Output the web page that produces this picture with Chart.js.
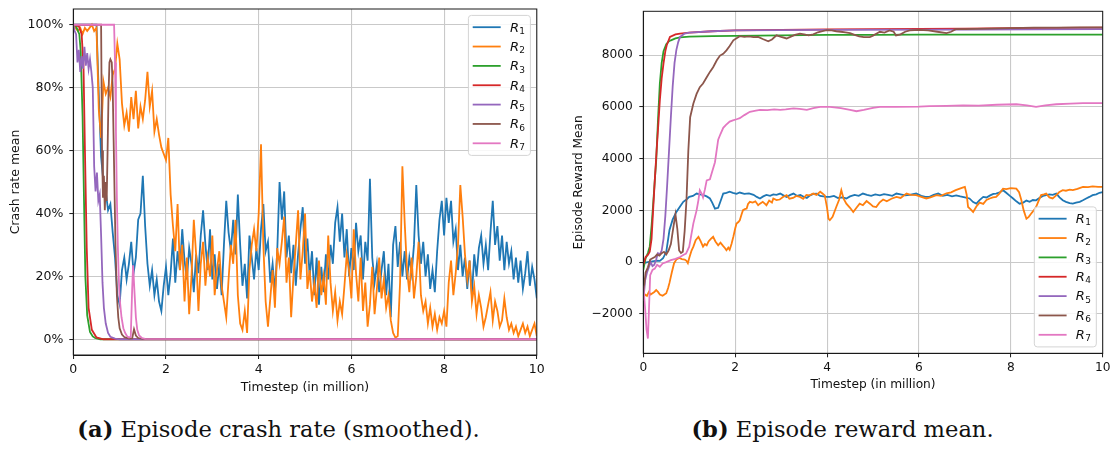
<!DOCTYPE html>
<html>
<head>
<meta charset="utf-8">
<script src="https://cdn.jsdelivr.net/npm/chart.js@4.4.0/dist/chart.umd.min.js"></script>
<style>
  html, body { margin: 0; padding: 0; background: #fff; }
  #page { position: relative; width: 1115px; height: 450px; background: #fff; overflow: hidden; }
  .panel { position: absolute; top: 0; }
  .cap { position: absolute; top: 416px; width: 560px; text-align: center;
         font-family: "DejaVu Serif", serif; font-size: 22.6px; color: #111; white-space: nowrap; }
</style>
</head>
<body>
<div id="page">
  <div class="panel" style="left:0;width:550px;height:400px"><canvas id="crash" width="550" height="400"></canvas></div>
  <div class="panel" style="left:555px;width:560px;height:400px"><canvas id="reward" width="560" height="400"></canvas></div>
  <div class="cap" style="left:-1.5px"><b>(a)</b> Episode crash rate (smoothed).</div>
  <div class="cap" style="left:562.5px"><b>(b)</b> Episode reward mean.</div>
</div>
<script>
// ---------- series names and colours ----------
const seriesLabels = ['R1', 'R2', 'R3', 'R4', 'R5', 'R6', 'R7'];
const seriesColors = ['#1f77b4', '#ff7f0e', '#2ca02c', '#d62728', '#9467bd', '#8c564b', '#e377c2'];

// ---------- axis ticks ----------
const timeTicks = [0, 2, 4, 6, 8, 10];
const crashTicks = [0, 20, 40, 60, 80, 100];
const rewardTicks = [-2000, 0, 2000, 4000, 6000, 8000];

// ---------- crash rate (%), sampled every 0.05 M steps for R1 / R2 ----------
const crashTime = [
  0,0.05,0.1,0.15,0.2,0.25,0.3,0.35,0.4,0.45,0.5,0.55,0.6,0.65,0.7,0.75,0.8,0.85,0.9,0.95,
  1,1.05,1.1,1.15,1.2,1.25,1.3,1.35,1.4,1.45,1.5,1.55,1.6,1.65,1.7,1.75,1.8,1.85,1.9,1.95,
  2,2.05,2.1,2.15,2.2,2.25,2.3,2.35,2.4,2.45,2.5,2.55,2.6,2.65,2.7,2.75,2.8,2.85,2.9,2.95,
  3,3.05,3.1,3.15,3.2,3.25,3.3,3.35,3.4,3.45,3.5,3.55,3.6,3.65,3.7,3.75,3.8,3.85,3.9,3.95,
  4,4.05,4.1,4.15,4.2,4.25,4.3,4.35,4.4,4.45,4.5,4.55,4.6,4.65,4.7,4.75,4.8,4.85,4.9,4.95,
  5,5.05,5.1,5.15,5.2,5.25,5.3,5.35,5.4,5.45,5.5,5.55,5.6,5.65,5.7,5.75,5.8,5.85,5.9,5.95,
  6,6.05,6.1,6.15,6.2,6.25,6.3,6.35,6.4,6.45,6.5,6.55,6.6,6.65,6.7,6.75,6.8,6.85,6.9,6.95,
  7,7.05,7.1,7.15,7.2,7.25,7.3,7.35,7.4,7.45,7.5,7.55,7.6,7.65,7.7,7.75,7.8,7.85,7.9,7.95,
  8,8.05,8.1,8.15,8.2,8.25,8.3,8.35,8.4,8.45,8.5,8.55,8.6,8.65,8.7,8.75,8.8,8.85,8.9,8.95,
  9,9.05,9.1,9.15,9.2,9.25,9.3,9.35,9.4,9.45,9.5,9.55,9.6,9.65,9.7,9.75,9.8,9.85,9.9,9.95,
  10
];
const crashR1 = [
  100,100,100,100,100,100,100,100,100,100,100,
  78,58,50,47,41,43,34,26,14,11,
  22,26,19,24,31,21,26,38,40,52,36,24,17,22,14,19,12,9,17,23,
  14,21,32,18,28,22,35,25,19,29,24,15,27,21,33,41,30,22,35,19,
  27,16,24,14,30,44,34,28,38,27,46,30,17,24,13,33,26,19,29,22,
  35,43,28,31,18,24,15,28,50,38,47,26,33,21,30,17,27,35,42,24,
  32,20,28,14,26,11,23,15,27,19,30,24,37,42,31,40,26,35,20,29,
  22,37,28,33,19,31,25,51,26,18,24,15,22,28,14,24,7,30,36,23,
  31,20,28,19,26,21,30,49,33,24,31,20,27,16,22,15,28,38,44,33,
  45,37,44,31,35,22,30,20,26,16,25,14,27,20,29,33,24,30,22,34,
  44,30,36,25,33,22,31,24,28,19,26,18,25,16,21,28,17,23,19,13
];
const crashR2 = [
  100,99,98,99,97,99,98,99,100,98,99,
  73,64,82,78,80,77,84,86,94,89,
  75,68,72,66,77,70,79,67,74,70,76,85,74,79,66,70,65,61,59,57,
  64,46,36,28,43,22,30,12,26,8,20,38,27,9,24,31,17,26,20,33,
  14,22,28,17,12,7,19,30,24,38,14,5,3,9,2,22,30,35,28,40,
  62,30,12,4,13,22,10,29,24,31,39,18,26,7,20,30,41,19,28,40,
  16,22,12,18,10,25,14,20,11,33,18,9,15,6,12,8,17,27,22,13,
  35,21,12,26,9,18,4,11,23,8,16,26,13,19,10,14,6,2,0.5,1,
  18,55,37,22,15,26,13,20,31,14,9,12,5,10,4,8,3,7,5,9,
  4,18,25,14,21,30,49,39,27,19,25,12,17,8,14,10,4,7,11,15,
  6,12,9,4,6,13,7,3,5,2,4,1,3,5,2,4,1,3,5,1
];
const crashR3Time = [0, 0.06, 0.13, 0.16, 0.2, 0.23, 0.26, 0.3, 0.36, 0.42, 0.47, 0.58, 10];
const crashR3 = [100, 99.5, 97, 91.5, 71, 45, 20, 7.6, 2.3, 0.9, 0.4, 0, 0];
const crashR4Time = [0, 0.12, 0.18, 0.22, 0.25, 0.29, 0.33, 0.4, 0.5, 0.65, 10];
const crashR4 = [100, 99.5, 97, 87, 61, 29, 10, 3, 0.6, 0, 0];
const crashR5Time = [0, 0.03, 0.06, 0.09, 0.12, 0.15, 0.18, 0.21, 0.24, 0.27, 0.3, 0.33, 0.36, 0.39, 0.42,
                     0.45, 0.48, 0.51, 0.54, 0.57, 0.6, 0.63, 0.66, 0.7, 0.75, 0.8, 0.9, 1.0, 10];
const crashR5 = [100, 98, 97, 88, 92, 85, 90, 86, 93, 87, 91, 86, 89, 85, 80,
                 55, 47, 53, 44, 46, 33, 18, 10, 5, 2, 0.8, 0.2, 0, 0];
const crashR6Time = [0, 0.6, 0.62, 0.64, 0.66, 0.68, 0.7, 0.72, 0.74, 0.76, 0.78, 0.8, 0.83, 0.85, 0.88,
                     0.91, 0.94, 0.97, 1.0, 1.05, 1.1, 1.2, 1.27, 1.31, 1.35, 1.4, 1.5, 10];
const crashR6 = [100, 100, 60, 45, 52, 41, 50, 44, 60, 78, 88, 89, 88, 80, 55,
                 30, 14, 7, 3.5, 1.5, 0.7, 0.2, 0.3, 3.2, 1.2, 0.4, 0.1, 0];
const crashR7Time = [0, 0.88, 0.9, 0.92, 0.94, 0.96, 0.98, 1.0, 1.04, 1.08, 1.12, 1.16, 1.2, 1.24,
                     1.27, 1.29, 1.32, 1.35, 1.38, 1.42, 1.48, 1.55, 10];
const crashR7 = [100, 100, 88, 66, 45, 30, 20, 13, 7, 3.5, 2, 1, 0.6, 0.8,
                 16, 23.5, 15, 7, 3, 1.2, 0.4, 0.1, 0];

// ---------- episode reward mean ----------
const rewardR1Time = [0,0.1,0.2,0.3,0.36,0.43,0.5,0.57,0.64,0.72,0.8,0.87,0.94,1.0,1.08,1.16,1.23,1.3,1.38,1.45,
  1.5,1.56,1.63,1.7,1.74,1.81,1.88,1.95,2.03,2.1,2.2,2.3,2.4,2.47,2.54,2.61,2.68,2.76,2.83,2.9,
  2.98,3.05,3.12,3.2,3.27,3.35,3.42,3.5,3.56,3.63,3.7,3.77,3.85,3.92,3.99,4.06,4.15,4.24,4.33,4.42,
  4.5,4.6,4.69,4.78,4.87,4.96,5.05,5.15,5.24,5.33,5.42,5.51,5.6,5.7,5.8,5.94,6.05,6.14,6.23,6.32,
  6.42,6.52,6.62,6.72,6.81,6.9,7.0,7.1,7.18,7.25,7.32,7.4,7.47,7.55,7.62,7.68,7.76,7.83,7.9,7.98,
  8.05,8.12,8.19,8.27,8.34,8.41,8.48,8.55,8.62,8.7,8.77,8.84,8.91,8.99,9.06,9.13,9.2,9.28,9.35,9.42,
  9.5,9.57,9.64,9.71,9.78,9.86,9.93,10];
const rewardR1 = [-40,0,30,60,50,150,400,1240,1650,1940,2150,2330,2420,2520,2560,2650,2620,2600,2540,2460,
  2300,2070,2100,2450,2650,2680,2720,2680,2640,2690,2640,2660,2600,2520,2460,2540,2600,2560,2620,2600,
  2650,2580,2520,2600,2650,2560,2600,2520,2480,2580,2640,2650,2560,2540,2520,2520,2560,2480,2500,2460,
  2540,2600,2560,2650,2600,2560,2620,2580,2630,2600,2560,2650,2620,2580,2600,2650,2560,2520,2520,2600,
  2650,2560,2600,2540,2580,2540,2500,2460,2320,2260,2400,2520,2500,2580,2640,2650,2700,2780,2680,2560,
  2460,2350,2260,2300,2380,2330,2400,2390,2480,2560,2590,2620,2600,2650,2500,2390,2330,2280,2260,2300,
  2330,2390,2460,2520,2590,2620,2680,2710];
const rewardR2Time = [0,0.04,0.08,0.12,0.16,0.2,0.24,0.28,0.32,0.36,0.42,0.46,0.5,0.54,0.57,0.62,0.67,0.72,0.78,0.84,
  0.9,0.94,0.97,1.0,1.05,1.09,1.14,1.2,1.25,1.3,1.34,1.38,1.42,1.47,1.52,1.57,1.63,1.68,1.74,1.78,
  1.81,1.85,1.88,1.92,1.96,2.0,2.03,2.07,2.1,2.14,2.17,2.21,2.25,2.28,2.32,2.38,2.44,2.5,2.54,2.6,
  2.65,2.68,2.74,2.8,2.83,2.9,2.97,3.04,3.12,3.18,3.26,3.33,3.41,3.48,3.55,3.62,3.7,3.77,3.85,3.9,
  3.95,4.0,4.03,4.06,4.12,4.2,4.26,4.31,4.36,4.42,4.5,4.57,4.64,4.71,4.78,4.86,4.94,5.0,5.07,5.14,
  5.22,5.3,5.4,5.51,5.6,5.73,5.82,5.94,6.05,6.16,6.25,6.38,6.48,6.6,6.7,6.8,6.89,6.95,7.0,7.04,
  7.07,7.12,7.18,7.25,7.32,7.4,7.47,7.54,7.61,7.68,7.75,7.83,7.9,8.0,8.12,8.18,8.23,8.28,8.34,8.39,
  8.44,8.5,8.55,8.6,8.66,8.72,8.77,8.84,8.91,8.97,9.05,9.13,9.2,9.28,9.35,9.45,9.57,9.68,9.78,9.9,10];
const rewardR2 = [-1400,-1250,-1300,-1150,-1250,-1200,-1150,-1080,-1150,-1250,-1300,-1250,-1200,-1000,-800,-400,-40,100,160,120,
  100,50,-40,160,450,600,850,980,800,600,700,650,800,900,980,800,650,750,620,540,
  460,560,480,700,980,1300,1490,1550,1620,1850,2010,2050,2070,2250,2330,2300,2350,2200,2260,2330,
  2250,2200,2380,2300,2460,2400,2420,2520,2590,2450,2480,2560,2520,2450,2600,2580,2650,2600,2720,2650,
  2580,2100,1680,1620,1750,2130,2400,2780,2450,2260,2100,1940,2100,2260,2200,2360,2250,2150,2130,2300,
  2420,2350,2450,2520,2480,2650,2600,2590,2520,2460,2500,2590,2560,2660,2700,2780,2840,2880,2910,2600,
  2130,2050,1940,2150,2300,2250,2400,2460,2500,2520,2650,2840,2820,2860,2840,2700,2390,2000,1680,1750,
  1870,2000,2130,2350,2590,2620,2650,2500,2460,2550,2700,2780,2760,2800,2780,2830,2910,2900,2930,2910,2910];
const rewardR3Time = [0,0.05,0.1,0.14,0.18,0.21,0.25,0.28,0.32,0.36,0.4,0.44,0.5,0.55,0.6,0.7,0.8,1.0,1.5,2,3,4,5,6,7,8,9,10];
const rewardR3 = [-300,150,350,600,1400,2130,3160,3900,5500,6900,7700,8150,8420,8520,8570,8640,8680,8710,8730,8740,8760,8780,8780,8790,8790,8790,8790,8790];
const rewardR4Time = [0,0.05,0.1,0.14,0.18,0.21,0.25,0.29,0.33,0.36,0.4,0.44,0.48,0.51,0.58,0.7,0.8,1.0,1.5,2,3,4,5,6,7,8,9,10];
const rewardR4 = [-100,200,280,400,900,1890,3160,4320,5400,6250,7100,7680,8150,8380,8700,8800,8830,8870,8920,8950,8970,8990,9000,9010,9020,9040,9050,9060];
const rewardR5Time = [0,0.04,0.08,0.12,0.16,0.2,0.24,0.28,0.32,0.36,0.4,0.44,0.48,0.52,0.56,0.6,0.64,0.68,0.72,0.76,0.8,0.9,1.0,1.5,2,4,7,10];
const rewardR5 = [-1500,-700,-400,-200,0,-150,-100,100,350,300,450,900,1800,3000,4300,5600,6800,7700,8200,8500,8700,8830,8870,8920,8950,8970,8980,9000];
const rewardR6Time = [0,0.05,0.1,0.15,0.2,0.25,0.3,0.35,0.4,0.45,0.5,0.55,0.6,0.65,0.7,0.74,0.78,0.82,0.86,0.9,
  0.94,0.98,1.02,1.09,1.16,1.23,1.3,1.38,1.45,1.52,1.6,1.67,1.74,1.81,1.88,1.96,2.03,2.1,2.2,2.3,
  2.4,2.5,2.6,2.72,2.8,2.9,3.0,3.12,3.2,3.3,3.41,3.5,3.6,3.7,3.8,3.9,3.99,4.1,4.2,4.3,
  4.4,4.5,4.6,4.7,4.8,4.93,5.0,5.1,5.15,5.25,5.36,5.45,5.5,5.6,5.7,5.8,6.0,6.2,6.4,6.6,
  6.7,6.8,7.0,7.5,8.0,8.5,9.0,9.5,10];
const rewardR6 = [-1200,-400,-200,100,150,200,300,250,350,400,300,450,700,1300,1850,1300,450,350,400,1200,
  2400,4300,5600,6130,6500,6760,6900,7140,7350,7530,7800,7980,8050,8180,8350,8570,8650,8730,8700,8720,
  8690,8700,8620,8530,8600,8760,8700,8640,8700,8780,8830,8800,8760,8800,8880,8920,8960,8950,8920,8900,
  8880,8850,8780,8720,8690,8690,8750,8850,8900,8870,8950,8900,8760,8800,8900,8950,8970,8950,8900,8850,
  8900,9000,9000,9020,9040,9060,9060,9070,9070];
const rewardR7Time = [0,0.04,0.07,0.1,0.12,0.15,0.2,0.25,0.3,0.36,0.42,0.5,0.6,0.7,0.8,0.87,0.93,1.0,1.05,1.09,
  1.16,1.2,1.23,1.27,1.3,1.34,1.38,1.45,1.5,1.56,1.63,1.68,1.74,1.8,1.88,1.95,2.03,2.1,2.2,2.32,
  2.45,2.54,2.7,2.85,2.98,3.1,3.27,3.4,3.56,3.7,3.85,4.06,4.3,4.5,4.64,4.8,5.0,5.15,5.5,6.0,
  6.23,6.6,6.96,7.3,7.7,8.12,8.35,8.55,8.75,8.99,9.3,9.57,10];
const rewardR7 = [-900,-1800,-2600,-2950,-2000,-500,-300,-250,-100,-180,-50,0,80,130,200,280,330,600,1100,1500,
  2000,2400,2780,2650,2500,2800,3160,3200,3500,3860,4730,4950,5190,5300,5430,5480,5520,5560,5680,5810,
  5850,5880,5870,5900,5880,5900,5940,5920,5880,5950,6000,6000,5950,5880,5830,5880,5960,6000,6000,6010,
  6030,6040,6060,6050,6080,6100,6060,6000,6060,6100,6120,6140,6140];

// ---------- helpers ----------
const pairUp = (xs, ys) => xs.map((x, i) => ({ x, y: ys[i] }));

function makeDatasets(pairs) {
  return pairs.map(([xs, ys], i) => ({
    label: seriesLabels[i],
    data: pairUp(xs, ys),
    borderColor: seriesColors[i],
    backgroundColor: seriesColors[i],
    borderWidth: 1.8,
    pointRadius: 0,
    tension: 0,
    fill: false,
    order: seriesLabels.length - i   // later series are drawn on top
  }));
}

// box around the plotting area (all four spines)
const frame = {
  id: 'frame',
  afterDatasetsDraw(chart) {
    const { ctx, chartArea: a } = chart;
    ctx.save();
    ctx.strokeStyle = '#1a1a1a';
    ctx.lineWidth = 1;
    ctx.strokeRect(a.left, a.top, a.right - a.left, a.bottom - a.top);
    ctx.restore();
  }
};

// legend drawn inside the plot area, label "R" in italics with a subscript index
const seriesKey = {
  id: 'seriesKey',
  afterDraw(chart, args, opts) {
    const { ctx, chartArea: a } = chart;
    const w = 62, rowH = 19.35, h = 140, inset = 6.4;
    const left = a.right - inset - w;
    const top = opts.corner === 'top' ? a.top + inset : a.bottom - inset - h;
    ctx.save();
    ctx.beginPath();
    if (ctx.roundRect) ctx.roundRect(left, top, w, h, 3); else ctx.rect(left, top, w, h);
    ctx.fillStyle = 'rgba(255,255,255,0.85)';
    ctx.fill();
    ctx.strokeStyle = '#d4d4d4';
    ctx.lineWidth = 1;
    ctx.stroke();
    chart.data.datasets.forEach((ds, i) => {
      const y = top + 11.8 + i * rowH;
      ctx.beginPath();
      ctx.moveTo(left + 4.3, y);
      ctx.lineTo(left + 32.3, y);
      ctx.strokeStyle = ds.borderColor;
      ctx.lineWidth = 1.8;
      ctx.stroke();
      ctx.fillStyle = '#111';
      ctx.textBaseline = 'alphabetic';
      ctx.textAlign = 'left';
      ctx.font = 'italic 13px "DejaVu Sans"';
      const head = ds.label.charAt(0);
      ctx.fillText(head, left + 41.5, y + 4.3);
      const hw = ctx.measureText(head).width;
      ctx.font = '9px "DejaVu Sans"';
      ctx.fillText(ds.label.slice(1), left + 41.5 + hw + 0.3, y + 6.6);
    });
    ctx.restore();
  }
};

Chart.defaults.font.family = '"DejaVu Sans", sans-serif';
Chart.defaults.color = '#111';

// tick labels may overhang the plot edges; the layout padding already leaves room for them
function noOverhang(s) {
  s.paddingTop = 0; s.paddingBottom = 0; s.paddingLeft = 0; s.paddingRight = 0;
}

function axisOptions(cfg) {
  return {
    x: {
      type: 'linear', min: 0, max: 10,
      afterBuildTicks: s => { s.ticks = timeTicks.map(v => ({ value: v })); },
      afterFit: s => { s.height = cfg.xHeight; noOverhang(s); },
      grid: { color: '#c9c9c9', lineWidth: 1.1, tickColor: '#1a1a1a', tickLength: 4, tickWidth: 1 },
      border: { display: true, color: '#1a1a1a', width: 1 },
      ticks: { padding: cfg.xTickPad, maxRotation: 0, autoSkip: false, font: { size: cfg.font },
               callback: v => String(v) },
      title: { display: true, text: 'Timestep (in million)', font: { size: cfg.font },
               padding: { top: 0, bottom: cfg.xTitlePad } }
    },
    y: {
      type: 'linear', min: cfg.yMin, max: cfg.yMax,
      afterBuildTicks: s => { s.ticks = cfg.yTicks.map(v => ({ value: v })); },
      afterFit: s => { s.width = cfg.yWidth; noOverhang(s); },
      grid: { color: '#c9c9c9', lineWidth: 1.1, tickColor: '#1a1a1a', tickLength: 4, tickWidth: 1 },
      border: { display: true, color: '#1a1a1a', width: 1 },
      ticks: { padding: cfg.yTickPad, autoSkip: false, font: { size: cfg.font }, callback: cfg.yFormat },
      title: { display: true, text: cfg.yTitle, font: { size: cfg.font },
               padding: { top: cfg.yTitlePad, bottom: 0 } }
    }
  };
}

new Chart(document.getElementById('crash'), {
  type: 'line',
  data: {
    datasets: makeDatasets([
      [crashTime, crashR1], [crashTime, crashR2], [crashR3Time, crashR3], [crashR4Time, crashR4],
      [crashR5Time, crashR5], [crashR6Time, crashR6], [crashR7Time, crashR7]
    ])
  },
  options: {
    responsive: false, animation: false, devicePixelRatio: 1,
    layout: { padding: { left: 0, right: 13.2, top: 9, bottom: 0 } },
    plugins: { legend: { display: false }, tooltip: { enabled: false }, seriesKey: { corner: 'top' } },
    scales: axisOptions({
      font: 12.5, xHeight: 45, yWidth: 73.3, xTickPad: 3, yTickPad: 6, xTitlePad: 4.5, yTitlePad: 8.5,
      yMin: -5, yMax: 105, yTicks: crashTicks, yTitle: 'Crash rate mean',
      yFormat: v => v + '%'
    })
  },
  plugins: [frame, seriesKey]
});

new Chart(document.getElementById('reward'), {
  type: 'line',
  data: {
    datasets: makeDatasets([
      [rewardR1Time, rewardR1], [rewardR2Time, rewardR2], [rewardR3Time, rewardR3], [rewardR4Time, rewardR4],
      [rewardR5Time, rewardR5], [rewardR6Time, rewardR6], [rewardR7Time, rewardR7]
    ])
  },
  options: {
    responsive: false, animation: false, devicePixelRatio: 1,
    layout: { padding: { left: 0, right: 12.3, top: 11.3, bottom: 0 } },
    plugins: { legend: { display: false }, tooltip: { enabled: false }, seriesKey: { corner: 'bottom' } },
    scales: axisOptions({
      font: 12.2, xHeight: 46.7, yWidth: 88.3, xTickPad: 3, yTickPad: 6.6, xTitlePad: 7.8, yTitlePad: 16.8,
      yMin: -3520, yMax: 9690, yTicks: rewardTicks, yTitle: 'Episode Reward Mean',
      yFormat: v => (v < 0 ? '\u2212' + Math.abs(v) : String(v))
    })
  },
  plugins: [frame, seriesKey]
});
</script>
</body>
</html>
